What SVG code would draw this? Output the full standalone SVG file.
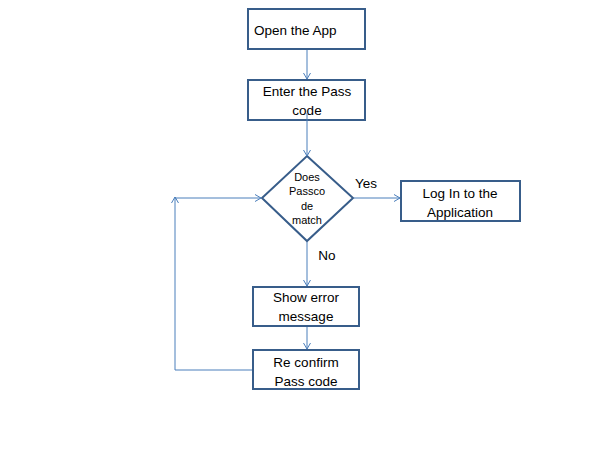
<svg xmlns="http://www.w3.org/2000/svg" width="601" height="452" viewBox="0 0 601 452">
<style>
.box{fill:#fff;stroke:#385D8A;stroke-width:2}
.t{font-family:"Liberation Sans",Arial,sans-serif;font-size:13.5px;fill:#000;text-anchor:middle}
.s{font-family:"Liberation Sans",Arial,sans-serif;font-size:11px;fill:#000;text-anchor:middle}
.c{fill:none;stroke:#4A7EBB;stroke-width:1}
</style>
<defs>
<marker id="a" markerWidth="10" markerHeight="10" refX="7" refY="4" orient="auto" markerUnits="userSpaceOnUse">
<path d="M1,0.5 L7,4 L1,7.5" fill="none" stroke="#4A7EBB" stroke-width="1"/>
</marker>
</defs>
<rect width="601" height="452" fill="#fff"/>
<g id="open">
<rect class="box" x="248" y="9" width="117" height="40"/>
<text class="t" x="254" y="35" style="text-anchor:start">Open the App</text>
</g>
<g id="enter">
<rect class="box" x="248" y="80" width="117" height="40"/>
<text class="t" x="307" y="96">Enter the Pass</text>
<text class="t" x="307" y="115">code</text>
</g>
<g id="decision">
<polygon class="box" points="307,156 353,198 307,241 262,198"/>
<text class="s" x="307" y="181">Does</text>
<text class="s" x="307" y="195">Passco</text>
<text class="s" x="307" y="210">de</text>
<text class="s" x="307" y="224">match</text>
</g>
<g id="login">
<rect class="box" x="401" y="181" width="119" height="40"/>
<text class="t" x="460" y="198">Log In to the</text>
<text class="t" x="460" y="217">Application</text>
</g>
<g id="error">
<rect class="box" x="253" y="287" width="106" height="39"/>
<text class="t" x="306" y="302">Show error</text>
<text class="t" x="306" y="321">message</text>
</g>
<g id="reconfirm">
<rect class="box" x="253" y="350" width="106" height="39"/>
<text class="t" x="306" y="367">Re confirm</text>
<text class="t" x="306" y="386">Pass code</text>
</g>
<g id="connectors">
<line class="c" x1="307" y1="50" x2="307" y2="79" marker-end="url(#a)"/>
<line class="c" x1="307" y1="113" x2="307" y2="156" marker-end="url(#a)"/>
<line class="c" x1="354" y1="198" x2="400" y2="198" marker-end="url(#a)"/>
<line class="c" x1="307" y1="242" x2="307" y2="286" marker-end="url(#a)"/>
<line class="c" x1="307" y1="327" x2="307" y2="349" marker-end="url(#a)"/>
<polyline class="c" points="252,370 175,370 175,197" marker-end="url(#a)"/>
<line class="c" x1="175" y1="198" x2="261" y2="198" marker-end="url(#a)"/>
<text class="t" x="366" y="188">Yes</text>
<text class="t" x="327" y="260">No</text>
</g>
</svg>
